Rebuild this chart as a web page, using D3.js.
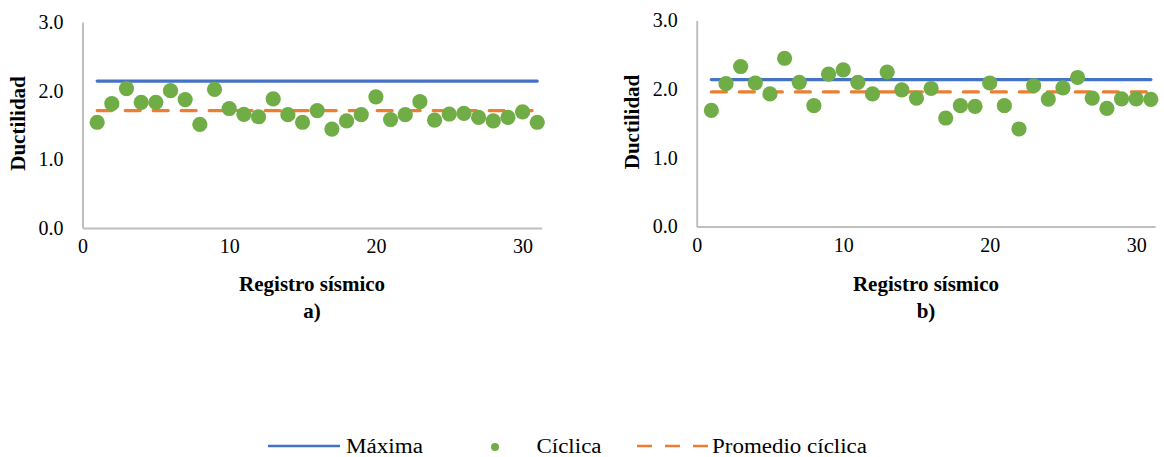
<!DOCTYPE html>
<html>
<head>
<meta charset="utf-8">
<script src="https://cdn.jsdelivr.net/npm/d3@7/dist/d3.min.js"></script>
<style>
  html, body { margin: 0; padding: 0; background: #fff; }
  svg, svg text { font-family: "Liberation Serif", "Times New Roman", serif; }
</style>
</head>
<body>
<svg id="chart" width="1164" height="457"></svg>
<script>
// ---- data ----
const registros = [1,2,3,4,5,6,7,8,9,10,11,12,13,14,15,16,17,18,19,20,21,22,23,24,25,26,27,28,29,30,31];
const ciclicaA = [1.54,1.81,2.03,1.83,1.83,2.00,1.87,1.51,2.02,1.74,1.655,1.62,1.88,1.65,1.54,1.71,1.44,1.56,1.65,1.91,1.58,1.65,1.84,1.57,1.66,1.67,1.61,1.56,1.61,1.69,1.54];
const maximaA = 2.14;
const promedioA = 1.71;
const ciclicaB = [1.69,2.08,2.33,2.09,1.93,2.45,2.10,1.76,2.22,2.28,2.10,1.93,2.25,1.99,1.87,2.01,1.58,1.76,1.75,2.09,1.76,1.42,2.05,1.855,2.02,2.17,1.87,1.72,1.86,1.86,1.85];
const maximaB = 2.14;
const promedioB = 1.96;
const yTicks = [0, 1, 2, 3];
const xTicks = [0, 10, 20, 30];
const panelLabels = ["a)", "b)"];
const legendNames = ["Máxima", "Cíclica", "Promedio cíclica"];

// ---- style ----
const FONT = '"Liberation Serif", "Times New Roman", serif';
const cBlue = "#4472C4", cOrange = "#ED7D31", cGreen = "#70AD47", cAxis = "#BFBFBF";
const svg = d3.select("#chart");

const panels = [
  { ciclica: ciclicaA, maxima: maximaA, promedio: promedioA, label: panelLabels[0],
    x0: 82.5, ppu: 14.67, y0: 228, yTop: 22 },
  { ciclica: ciclicaB, maxima: maximaB, promedio: promedioB, label: panelLabels[1],
    x0: 696.7, ppu: 14.65, y0: 226.5, yTop: 20.5 }
];

panels.forEach(p => {
  const xMax = 31.3;
  const x = d3.scaleLinear().domain([0, xMax]).range([p.x0, p.x0 + xMax * p.ppu]);
  const y = d3.scaleLinear().domain([0, 3]).range([p.y0, p.yTop]);
  const g = svg.append("g");

  // y axis
  const yAxis = g.append("g").attr("transform", `translate(${p.x0},0)`)
    .call(d3.axisLeft(y).tickValues(yTicks).tickFormat(d3.format(".1f")).tickSize(0).tickPadding(19));
  yAxis.attr("font-family", null).attr("font-size", null);
  yAxis.select(".domain").attr("stroke", cAxis).attr("stroke-width", 2);
  yAxis.selectAll("text").style("font-family", FONT).style("font-size", "20px").attr("fill", "#000");

  // x axis
  const xAxis = g.append("g").attr("transform", `translate(0,${p.y0})`)
    .call(d3.axisBottom(x).tickValues(xTicks).tickFormat(d3.format("d")).tickSize(0).tickPadding(11));
  xAxis.attr("font-family", null).attr("font-size", null);
  xAxis.select(".domain").attr("stroke", cAxis).attr("stroke-width", 2);
  xAxis.selectAll("text").style("font-family", FONT).style("font-size", "20px").attr("fill", "#000");

  const line = d3.line().x(d => x(d[0])).y(d => y(d[1]));
  const first = registros[0], last = registros[registros.length - 1];

  // Promedio cíclica
  g.append("path").datum([[first, p.promedio], [last, p.promedio]])
    .attr("d", line).attr("fill", "none").attr("stroke", cOrange)
    .attr("stroke-width", 3.2).attr("stroke-dasharray", "15,13").attr("stroke-linecap", "round");
  // Máxima
  g.append("path").datum([[first, p.maxima], [last, p.maxima]])
    .attr("d", line).attr("fill", "none").attr("stroke", cBlue)
    .attr("stroke-width", 3.2).attr("stroke-linecap", "round");

  // Cíclica points
  g.selectAll("circle.pt").data(p.ciclica).join("circle").attr("class", "pt")
    .attr("cx", (d, i) => x(registros[i])).attr("cy", d => y(d))
    .attr("r", 7.6).attr("fill", cGreen);

  // titles
  const cx = (x(0) + x(xMax)) / 2;
  g.append("text").attr("x", cx).attr("y", 291).attr("text-anchor", "middle")
    .style("font-family", FONT).style("font-size", "21px").attr("font-weight", "bold").text("Registro sísmico");
  g.append("text").attr("x", cx).attr("y", 318).attr("text-anchor", "middle")
    .style("font-family", FONT).style("font-size", "21px").attr("font-weight", "bold").text(p.label);
  g.append("text").attr("transform", `translate(${p.x0 - 58},${(p.y0 + p.yTop) / 2 - 1.5}) rotate(-90)`)
    .attr("text-anchor", "middle").style("font-family", FONT).style("font-size", "21px")
    .attr("font-weight", "bold").text("Ductilidad");
});

// ---- legend ----
const lg = svg.append("g");
const ly = 446;
const legText = (xx, t, len) => lg.append("text").attr("x", xx).attr("y", ly + 6.5)
  .style("font-family", FONT).style("font-size", "20px")
  .attr("textLength", len).attr("lengthAdjust", "spacingAndGlyphs").text(t);
lg.append("line").attr("x1", 268).attr("x2", 340).attr("y1", ly).attr("y2", ly)
  .attr("stroke", cBlue).attr("stroke-width", 2.5);
legText(346, legendNames[0], 77);
lg.append("circle").attr("cx", 495).attr("cy", ly + 1).attr("r", 4).attr("fill", cGreen);
legText(536.5, legendNames[1], 65);
lg.append("line").attr("x1", 637).attr("x2", 708).attr("y1", ly).attr("y2", ly)
  .attr("stroke", cOrange).attr("stroke-width", 2.5).attr("stroke-dasharray", "15,13");
legText(712, legendNames[2], 155);
</script>
</body>
</html>
